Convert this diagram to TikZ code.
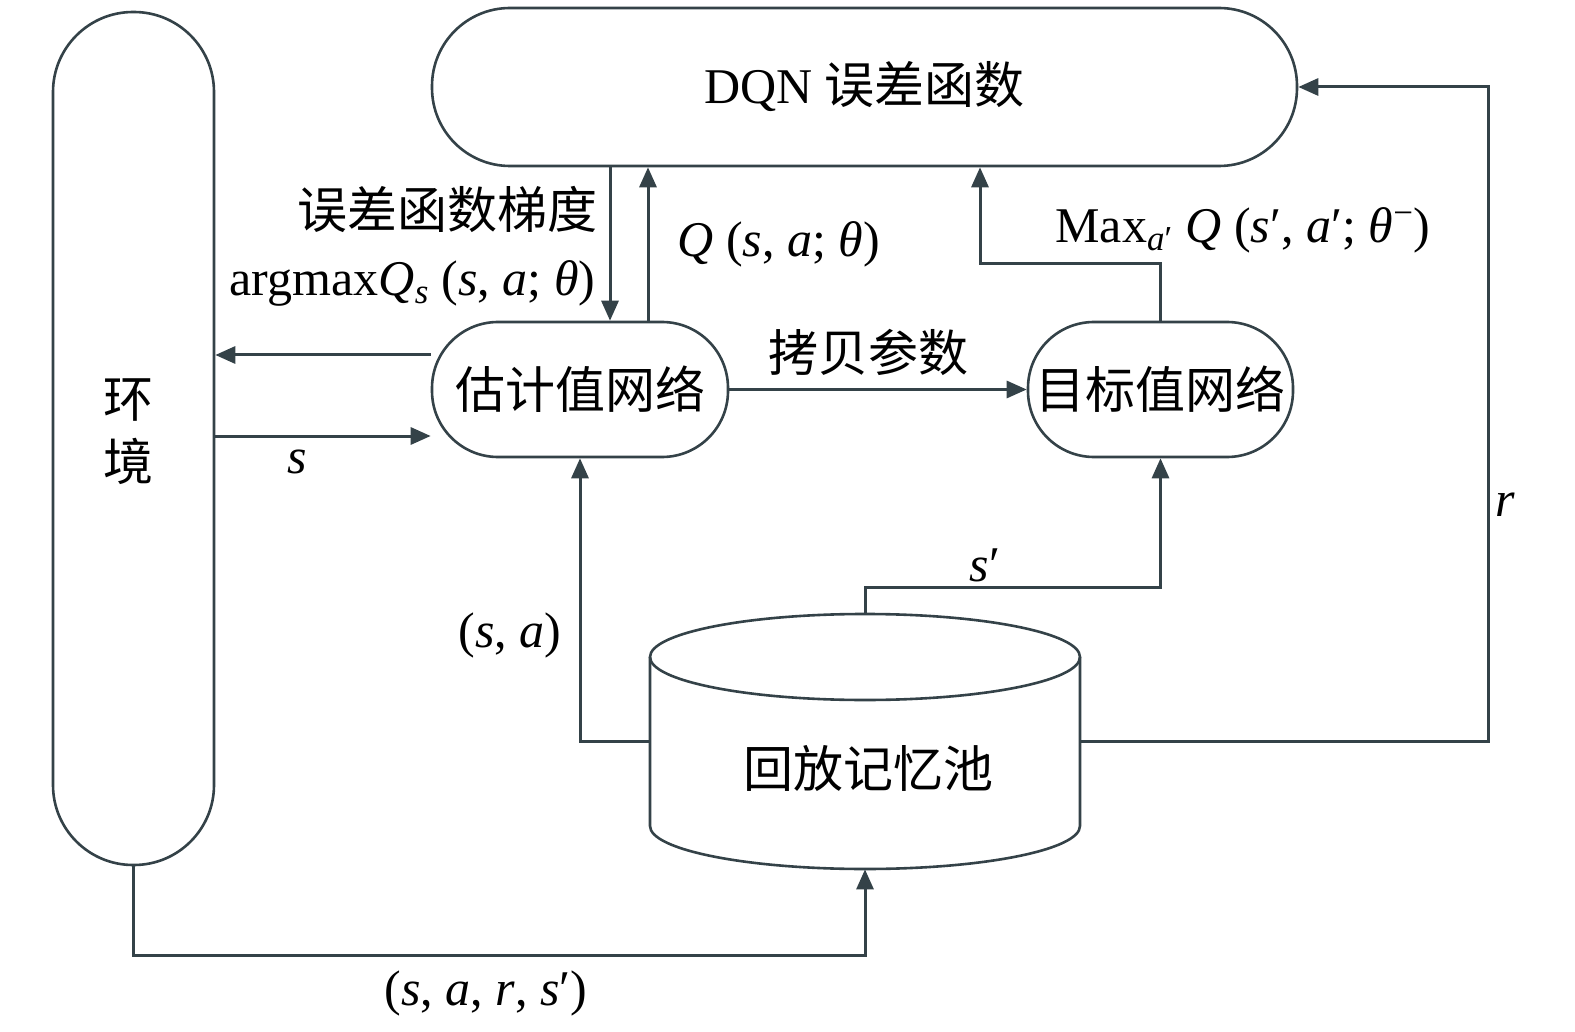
\documentclass[tikz,border=0pt]{standalone}
\usepackage{fontspec}
\setmainfont{Liberation Serif}
\newfontfamily\cjk{Noto Sans CJK SC}
\usetikzlibrary{arrows.meta}
\definecolor{linec}{RGB}{52,66,72}
\begin{document}
\begin{tikzpicture}[x=0.5pt,y=-0.5pt,
  font=\fontsize{25pt}{30pt}\selectfont,
  box/.style={draw=linec, line width=1.3pt, inner sep=0pt},
  arr/.style={draw=linec, line width=1.5pt, -{Triangle[length=10pt,width=8.5pt]}},
  lbl/.style={inner sep=0pt, text=black},
  cj/.style={font=\fontsize{25pt}{31.5pt}\selectfont\cjk}]
\useasboundingbox (0,0) rectangle (1575,1032);
% main blocks
\node[box, minimum width=80.5pt, minimum height=426.5pt, rounded corners=40pt] (env) at (133.5,438.5) {};
\node[lbl, cj, align=center] (envt) at (128,432) {环\\境};
\node[box, minimum width=432.5pt, minimum height=79pt, rounded corners=39pt] (dqn) at (864.5,87) {DQN {\cjk 误差函数}};
\node[box, cj, minimum width=148pt, minimum height=67.5pt, rounded corners=33pt] (est) at (580,389.5) {估计值网络};
\node[box, cj, minimum width=132.5pt, minimum height=67.5pt, rounded corners=33pt] (tgt) at (1160.5,389.5) {目标值网络};
% replay memory cylinder
\node[inner sep=0pt, minimum width=215pt, minimum height=127.5pt] (mem) at (865,741.5) {};
\draw[linec, line width=1.3pt] (865,657) ellipse [x radius=215, y radius=43];
\draw[linec, line width=1.3pt] (650,657) -- (650,826) arc[start angle=180, end angle=0, x radius=215, y radius=43] -- (1080,657);
\node[lbl, cj] (memt) at (868,768) {回放记忆池};
% connectors
\draw[arr] (610,0 |- dqn.south) -- (610,0 |- est.north);
\draw[arr] (648,0 |- est.north) -- (648,0 |- dqn.south);
\draw[arr] (tgt.north) -- ++(0,-57) -| (980,0 |- dqn.south);
\draw[arr] (est.west |- 0,355) -- (env.east |- 0,355);
\draw[arr] (env.east |- 0,436) -- (est.west |- 0,436);
\draw[arr] (est.east) -- (tgt.west);
\draw[arr] (mem.west) -| (est.south);
\draw[arr] (mem.north) -- ++(0,-26) -| (tgt.south);
\draw[arr] (mem.east) -| (1488,0 |- dqn.east) -- (dqn.east);
\draw[arr] (env.south) -- (env.south |- 0,955) -| (mem.south);
% labels
\node[lbl, cj, anchor=east] (lgrad) at (598,209) {误差函数梯度};
\node[lbl, anchor=base east] (larg) at (596,296) {argmax\textit{Q}\textsubscript{\textit{s}} (\textit{s}, \textit{a}; \textit{θ})};
\node[lbl, anchor=base west] (lq) at (677,257) {\textit{Q} (\textit{s}, \textit{a}; \textit{θ})};
\node[lbl, anchor=base west] (lmax) at (1055,243) {Max\textsubscript{\textit{a}′} \textit{Q} (\textit{s}′, \textit{a}′; \textit{θ}\textsuperscript{−})};
\node[lbl] (ls) at (297,462) {\textit{s}};
\node[lbl, cj] (lcopy) at (868,352) {拷贝参数};
\node[lbl] (lsa) at (510,635) {(\textit{s}, \textit{a})};
\node[lbl] (lsp) at (985,565) {\textit{s}′};
\node[lbl] (lr) at (1505,505) {\textit{r}};
\node[lbl] (ltup) at (486,993) {(\textit{s}, \textit{a}, \textit{r}, \textit{s}′)};
\end{tikzpicture}
\end{document}
